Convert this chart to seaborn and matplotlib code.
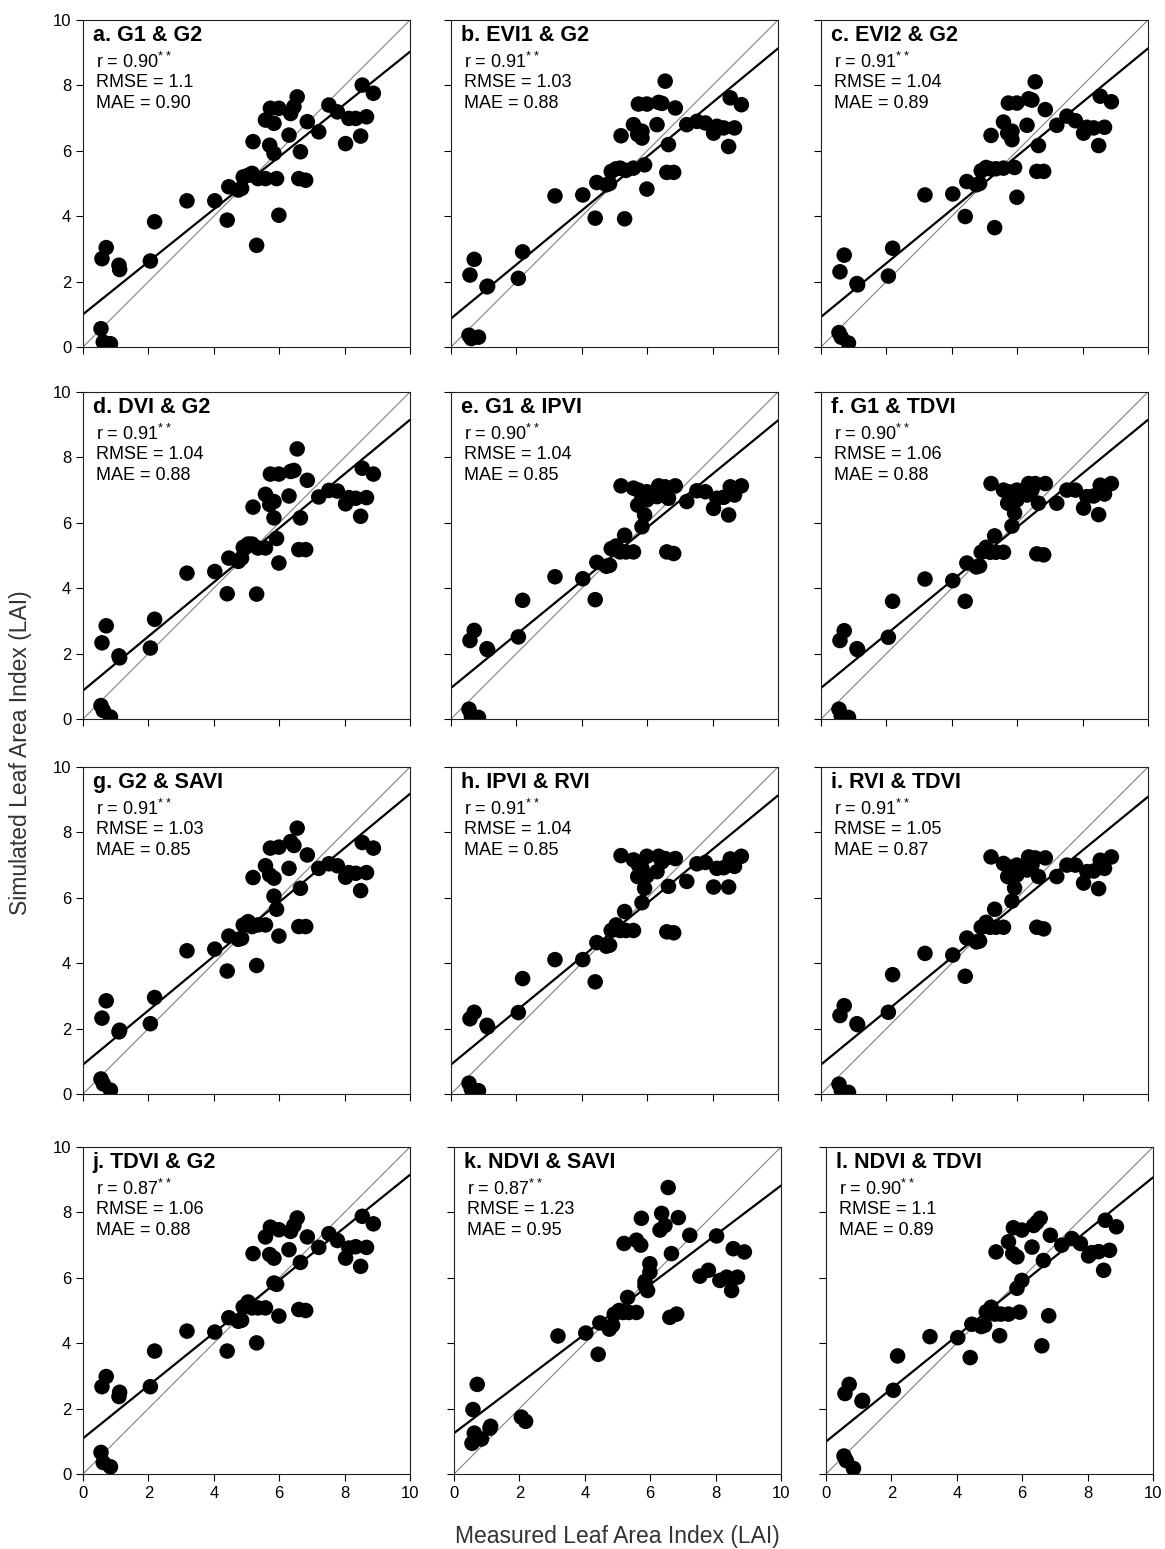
import numpy as np
import matplotlib
matplotlib.use("Agg")
import matplotlib.pyplot as plt
import seaborn as sns

sns.set_style("ticks")
plt.rcParams['font.family'] = ['Liberation Sans', 'DejaVu Sans']
plt.rcParams['mathtext.fontset'] = 'custom'
plt.rcParams['mathtext.rm'] = 'Liberation Sans'
plt.rcParams['text.color'] = 'black'

# measured LAI (same for every panel)
measured = [0.55, 0.58, 0.62, 0.71, 0.84, 1.10, 1.12, 2.06, 2.19, 3.18, 4.03, 4.41,
            4.46, 4.75, 4.85, 4.90, 5.05, 5.17, 5.20, 5.31, 5.35, 5.58, 5.58, 5.71,
            5.73, 5.84, 5.84, 5.92, 5.99, 5.99, 6.30, 6.35, 6.45, 6.55, 6.60, 6.65,
            6.81, 6.86, 7.21, 7.52, 7.78, 8.03, 8.13, 8.34, 8.49, 8.54, 8.67, 8.88]

# simulated LAI per index combination
sim_a = [0.56, 2.70, 0.15, 3.04, 0.10, 2.50, 2.37, 2.63, 3.83, 4.47, 4.47, 3.88,
         4.90, 4.80, 4.85, 5.20, 5.25, 5.31, 6.28, 3.11, 5.15, 5.15, 6.94, 6.17,
         7.30, 6.84, 5.92, 5.15, 4.03, 7.30, 6.48, 7.14, 7.35, 7.65, 5.15, 5.97,
         5.10, 6.89, 6.58, 7.40, 7.19, 6.22, 6.99, 6.99, 6.45, 8.01, 7.04, 7.76]
sim_b = [0.36, 2.20, 0.26, 2.68, 0.30, 1.84, 1.86, 2.10, 2.91, 4.62, 4.65, 3.94,
         5.03, 4.96, 5.00, 5.37, 5.45, 5.47, 6.46, 3.92, 5.40, 5.47, 6.80, 6.50,
         7.43, 6.60, 6.39, 5.57, 4.83, 7.43, 6.80, 7.48, 7.45, 8.13, 5.34, 6.19,
         5.34, 7.31, 6.80, 6.90, 6.85, 6.54, 6.75, 6.70, 6.13, 7.62, 6.70, 7.41]
sim_c = [0.44, 2.30, 0.30, 2.81, 0.12, 1.94, 1.90, 2.17, 3.02, 4.65, 4.68, 3.99,
         5.06, 4.96, 5.00, 5.39, 5.49, 5.45, 6.47, 3.65, 5.45, 5.47, 6.88, 6.54,
         7.46, 6.60, 6.34, 5.49, 4.58, 7.46, 6.78, 7.59, 7.55, 8.11, 5.37, 6.16,
         5.37, 7.26, 6.78, 7.06, 6.92, 6.54, 6.72, 6.70, 6.16, 7.67, 6.72, 7.50]
sim_d = [0.41, 2.33, 0.26, 2.85, 0.06, 1.93, 1.87, 2.17, 3.05, 4.46, 4.51, 3.83,
         4.92, 4.82, 4.92, 5.25, 5.35, 5.35, 6.48, 3.82, 5.23, 5.23, 6.87, 6.56,
         7.49, 6.65, 6.15, 5.52, 4.77, 7.49, 6.82, 7.57, 7.60, 8.26, 5.18, 6.15,
         5.18, 7.30, 6.79, 6.99, 6.97, 6.58, 6.77, 6.75, 6.20, 7.67, 6.77, 7.49]
sim_e = [0.30, 2.40, 0.10, 2.71, 0.05, 2.15, 2.12, 2.51, 3.63, 4.35, 4.29, 3.65,
         4.79, 4.67, 4.70, 5.21, 5.29, 5.11, 7.13, 5.62, 5.11, 5.11, 7.06, 6.54,
         7.00, 6.80, 5.88, 6.24, 6.70, 6.95, 6.80, 7.13, 6.95, 7.10, 5.11, 6.75,
         5.06, 7.13, 6.65, 6.98, 6.95, 6.44, 6.75, 6.78, 6.24, 7.10, 6.85, 7.13]
sim_f = [0.30, 2.40, 0.10, 2.70, 0.05, 2.15, 2.12, 2.50, 3.60, 4.28, 4.23, 3.60,
         4.77, 4.65, 4.68, 5.10, 5.25, 5.10, 7.20, 5.60, 5.10, 5.10, 7.00, 6.60,
         6.95, 6.80, 5.90, 6.30, 6.70, 7.00, 6.85, 7.20, 7.00, 7.20, 5.05, 6.60,
         5.02, 7.20, 6.60, 7.00, 7.00, 6.45, 6.80, 6.82, 6.25, 7.15, 6.88, 7.20]
sim_g = [0.46, 2.32, 0.31, 2.85, 0.12, 1.90, 1.95, 2.15, 2.95, 4.38, 4.43, 3.76,
         4.83, 4.73, 4.76, 5.17, 5.27, 5.12, 6.62, 3.93, 5.17, 5.17, 6.98, 6.70,
         7.52, 6.60, 6.05, 5.65, 4.83, 7.55, 6.90, 7.72, 7.60, 8.13, 5.12, 6.29,
         5.12, 7.31, 6.90, 7.04, 6.98, 6.63, 6.77, 6.75, 6.22, 7.69, 6.77, 7.52]
sim_h = [0.33, 2.30, 0.15, 2.50, 0.10, 2.10, 2.05, 2.49, 3.53, 4.11, 4.11, 3.43,
         4.63, 4.52, 4.55, 5.00, 5.17, 5.00, 7.29, 5.58, 5.00, 5.00, 7.16, 6.65,
         7.00, 6.90, 5.85, 6.29, 6.67, 7.27, 6.80, 7.27, 7.10, 7.20, 4.96, 6.35,
         4.93, 7.20, 6.50, 7.04, 7.08, 6.33, 6.90, 6.92, 6.33, 7.19, 6.96, 7.27]
sim_i = [0.30, 2.40, 0.10, 2.70, 0.05, 2.15, 2.12, 2.50, 3.65, 4.30, 4.25, 3.60,
         4.77, 4.65, 4.68, 5.10, 5.25, 5.10, 7.25, 5.65, 5.10, 5.10, 7.05, 6.65,
         6.95, 6.85, 5.90, 6.30, 6.70, 7.00, 6.85, 7.25, 7.00, 7.22, 5.10, 6.65,
         5.05, 7.22, 6.65, 7.00, 7.00, 6.45, 6.80, 6.82, 6.28, 7.15, 6.90, 7.25]
sim_j = [0.66, 2.67, 0.35, 2.98, 0.22, 2.37, 2.50, 2.67, 3.76, 4.37, 4.34, 3.76,
         4.78, 4.67, 4.70, 5.11, 5.26, 5.08, 6.74, 4.01, 5.08, 5.08, 7.25, 6.71,
         7.55, 6.60, 5.84, 5.80, 4.83, 7.47, 6.86, 7.42, 7.60, 7.83, 5.03, 6.47,
         5.00, 7.25, 6.93, 7.35, 7.14, 6.60, 6.91, 6.95, 6.35, 7.88, 6.93, 7.65]
sim_k = [0.94, 1.97, 1.25, 2.74, 1.07, 1.40, 1.46, 1.74, 1.61, 4.22, 4.31, 3.66,
         4.62, 4.43, 4.55, 4.89, 5.00, 4.94, 7.05, 5.40, 4.94, 4.94, 7.15, 7.00,
         7.82, 5.76, 5.89, 5.61, 6.43, 6.17, 7.46, 7.97, 7.60, 8.76, 4.79, 6.74,
         4.89, 7.84, 7.30, 6.05, 6.23, 7.28, 5.92, 6.02, 5.61, 6.89, 6.02, 6.79]
sim_l = [0.55, 2.46, 0.41, 2.74, 0.17, 2.23, 2.25, 2.56, 3.61, 4.20, 4.17, 3.56,
         4.58, 4.51, 4.55, 4.96, 5.10, 4.89, 6.79, 4.23, 4.89, 4.89, 7.10, 6.74,
         7.53, 6.64, 5.68, 4.95, 5.92, 7.46, 6.94, 7.60, 7.70, 7.82, 3.92, 6.53,
         4.84, 7.30, 7.00, 7.20, 7.05, 6.67, 6.77, 6.80, 6.23, 7.76, 6.84, 7.56]

# trend lines as drawn in the original figure (intercept, slope)
fit_intercept = [1.00, 0.87, 0.92, 0.87, 0.95, 0.95, 0.90, 0.90, 0.90, 1.09, 1.25, 0.99]
fit_slope = [0.803, 0.826, 0.821, 0.828, 0.818, 0.820, 0.828, 0.823, 0.819, 0.806, 0.757, 0.808]

panel_titles = ["a. G1 & G2", "b. EVI1 & G2", "c. EVI2 & G2",
                "d. DVI & G2", "e. G1 & IPVI", "f. G1 & TDVI",
                "g. G2 & SAVI", "h. IPVI & RVI", "i. RVI & TDVI",
                "j. TDVI & G2", "k. NDVI & SAVI", "l. NDVI & TDVI"]
r_vals = ["0.90", "0.91", "0.91", "0.91", "0.90", "0.90",
          "0.91", "0.91", "0.91", "0.87", "0.87", "0.90"]
rmse_vals = ["1.1", "1.03", "1.04", "1.04", "1.04", "1.06",
             "1.03", "1.04", "1.05", "1.06", "1.23", "1.1"]
mae_vals = ["0.90", "0.88", "0.89", "0.88", "0.85", "0.88",
            "0.85", "0.85", "0.87", "0.88", "0.95", "0.89"]
sims = [sim_a, sim_b, sim_c, sim_d, sim_e, sim_f,
        sim_g, sim_h, sim_i, sim_j, sim_k, sim_l]
ticks = [0, 2, 4, 6, 8, 10]

W, H = 1165, 1549
fig = plt.figure(figsize=(W / 100, H / 100), dpi=100)

# axes boxes in pixels (left, top)
col_left = [[83, 451, 821], [83, 451, 821], [83, 451, 821], [83, 454, 826]]
row_top = [20, 392, 767, 1147]
size = 327

for n in range(12):
    row, col = divmod(n, 3)
    left = col_left[row][col]
    top = row_top[row]
    ax = fig.add_axes([left / W, 1 - (top + size) / H, size / W, size / H])
    ax.set_xlim(0, 10)
    ax.set_ylim(0, 10)
    ax.axline((0, 0), slope=1, color="#7f7f7f", lw=0.8, zorder=1)
    ax.axline((0, fit_intercept[n]), slope=fit_slope[n], color="black", lw=1.6, zorder=2)
    sns.scatterplot(x=measured, y=sims[n], ax=ax, s=125, color="black",
                    edgecolor="none", zorder=3, legend=False)
    ax.set_xlim(0, 10)
    ax.set_ylim(0, 10)
    ax.set_xticks(ticks)
    ax.set_yticks(ticks)
    ax.tick_params(direction="out", length=5, width=0.8, labelsize=12,
                   colors="black")
    if row != 3:
        ax.set_xticklabels([])
    if col != 0:
        ax.set_yticklabels([])
    for sp in ax.spines.values():
        sp.set_visible(True)
        sp.set_linewidth(0.8)
        sp.set_color("#222222")
    ax.set_xlabel("")
    ax.set_ylabel("")
    ax.text(0.03, 0.985, panel_titles[n], transform=ax.transAxes, ha="left",
            va="top", fontsize=15.5, fontweight="bold")
    ax.text(0.04, 0.872, "r = " + r_vals[n] + r"$^{**}$", transform=ax.transAxes,
            ha="left", va="center", fontsize=13)
    ax.text(0.04, 0.808, "RMSE = " + rmse_vals[n], transform=ax.transAxes,
            ha="left", va="center", fontsize=13)
    ax.text(0.04, 0.746, "MAE = " + mae_vals[n], transform=ax.transAxes,
            ha="left", va="center", fontsize=13)

fig.text(0.0175, 0.514, "Simulated Leaf Area Index (LAI)", rotation=90,
         ha="center", va="center", fontsize=16.5, color="#333333")
fig.text(0.53, 0.008, "Measured Leaf Area Index (LAI)", ha="center",
         va="center", fontsize=16.5, color="#333333")

fig.savefig("out.png", dpi=100)
